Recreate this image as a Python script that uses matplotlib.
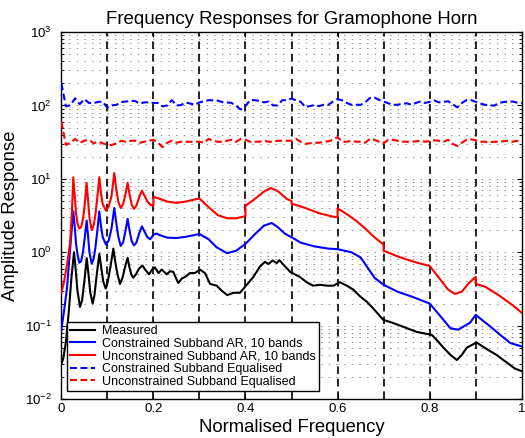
import numpy as np
import matplotlib
matplotlib.use("Agg")
import matplotlib.pyplot as plt

plt.rcParams['font.family'] = ['Liberation Sans', 'DejaVu Sans']
plt.rcParams['mathtext.fontset'] = 'custom'
plt.rcParams['mathtext.rm'] = 'Liberation Sans'
plt.rcParams['lines.scale_dashes'] = False

# band edges of the 10 subbands
band_edges = [0.1, 0.2, 0.3, 0.4, 0.5, 0.6, 0.7, 0.8, 0.9]

# measured response
meas_f = [0.000, 0.004, 0.010, 0.016, 0.022, 0.0276, 0.031, 0.035, 0.0406, 0.045,
          0.050, 0.0552, 0.059, 0.063, 0.068, 0.072, 0.077, 0.0825, 0.087, 0.091,
          0.0964, 0.101, 0.107, 0.113, 0.117, 0.122, 0.1275, 0.133, 0.139, 0.144,
          0.148, 0.152, 0.156, 0.162, 0.169, 0.176, 0.182, 0.1905, 0.197, 0.2035,
          0.211, 0.218, 0.229, 0.236, 0.243, 0.254, 0.262, 0.269, 0.2795, 0.290,
          0.301, 0.312, 0.323, 0.3375, 0.348, 0.3605, 0.3736, 0.388, 0.401, 0.417,
          0.4316, 0.4424, 0.4496, 0.459, 0.468, 0.4735, 0.486, 0.497, 0.518, 0.533,
          0.547, 0.562, 0.5765, 0.591, 0.605, 0.620, 0.634, 0.649, 0.664, 0.678,
          0.699, 0.718, 0.736, 0.755, 0.772, 0.790, 0.8045, 0.817, 0.830, 0.845,
          0.859, 0.870, 0.8805, 0.902, 0.915, 0.931, 0.945, 0.960, 0.972, 0.985, 1.000]
meas_a = [0.03, 0.035, 0.06, 0.15, 0.45, 1.0, 0.6, 0.3, 0.18, 0.22,
          0.4, 0.83, 0.5, 0.28, 0.2, 0.26, 0.5, 0.95, 0.6, 0.4,
          0.32, 0.4, 0.65, 1.12, 0.75, 0.5, 0.37, 0.45, 0.65, 0.84,
          0.62, 0.5, 0.45, 0.5, 0.6, 0.66, 0.58, 0.5, 0.58, 0.62,
          0.52, 0.58, 0.5, 0.55, 0.54, 0.38, 0.44, 0.46, 0.52, 0.52,
          0.58, 0.52, 0.37, 0.35, 0.3, 0.26, 0.28, 0.28, 0.35, 0.46,
          0.64, 0.74, 0.69, 0.77, 0.71, 0.78, 0.64, 0.54, 0.46, 0.39,
          0.35, 0.36, 0.35, 0.35, 0.39, 0.35, 0.31, 0.25, 0.21, 0.17,
          0.12, 0.11, 0.10, 0.09, 0.082, 0.078, 0.075, 0.062, 0.05, 0.04,
          0.034, 0.04, 0.05, 0.059, 0.052, 0.045, 0.04, 0.034, 0.03, 0.026, 0.024]

# constrained subband AR model
con_f = [0.000, 0.006, 0.012, 0.019, 0.023, 0.026, 0.029, 0.032, 0.035, 0.039,
         0.043, 0.047, 0.051, 0.055, 0.058, 0.061, 0.066, 0.070, 0.074, 0.078,
         0.0825, 0.086, 0.090, 0.097, 0.103, 0.109, 0.115, 0.119, 0.124, 0.129,
         0.134, 0.139, 0.144, 0.148, 0.153, 0.158, 0.163, 0.169, 0.175, 0.180,
         0.187, 0.193, 0.200, 0.206, 0.215, 0.230, 0.250, 0.270, 0.300, 0.320,
         0.337, 0.360, 0.380, 0.400, 0.420, 0.440, 0.457, 0.470, 0.485, 0.500,
         0.520, 0.550, 0.580, 0.600, 0.630, 0.650, 0.665, 0.680, 0.700, 0.730,
         0.760, 0.800, 0.830, 0.845, 0.862, 0.888, 0.900, 0.931, 0.953, 0.975, 1.000]
con_a = [0.088, 0.16, 0.31, 1.08, 2.2, 3.6, 2.3, 1.3, 0.95, 0.72,
         0.75, 1.0, 1.6, 2.7, 1.7, 1.0, 0.7, 0.8, 1.15, 1.9,
         3.6, 2.3, 1.6, 1.27, 1.45, 2.1, 4.0, 2.6, 1.6, 1.22,
         1.35, 1.9, 2.85, 2.0, 1.4, 1.24, 1.35, 1.8, 2.25, 1.95,
         1.6, 1.5, 1.72, 1.8, 1.7, 1.58, 1.56, 1.62, 1.77, 1.5,
         1.17, 0.97, 1.05, 1.3, 1.75, 2.3, 2.5, 2.2, 1.8, 1.6,
         1.35, 1.2, 1.12, 1.1, 1.0, 0.85, 0.62, 0.45, 0.36, 0.29,
         0.25, 0.2, 0.12, 0.092, 0.088, 0.11, 0.14, 0.098, 0.075, 0.058, 0.052]

# unconstrained subband AR model (jumps at band edges)
unc_f = [0.000, 0.006, 0.012, 0.019, 0.023, 0.026, 0.029, 0.032, 0.035, 0.039,
         0.043, 0.047, 0.051, 0.055, 0.058, 0.061, 0.066, 0.070, 0.074, 0.078,
         0.0825, 0.086, 0.090, 0.097, 0.103, 0.109, 0.115, 0.119, 0.124, 0.129,
         0.134, 0.139, 0.144, 0.148, 0.153, 0.158, 0.163, 0.169, 0.175, 0.180,
         0.187, 0.194, 0.200, 0.200, 0.215, 0.230, 0.250, 0.270, 0.300, 0.320,
         0.340, 0.360, 0.380, 0.400, 0.400, 0.420, 0.440, 0.455, 0.470, 0.490,
         0.500, 0.500, 0.530, 0.560, 0.590, 0.600, 0.600, 0.620, 0.640, 0.660,
         0.680, 0.700, 0.700, 0.730, 0.760, 0.780, 0.800, 0.820, 0.840, 0.855,
         0.870, 0.885, 0.900, 0.900, 0.920, 0.950, 0.980, 1.000]
unc_a = [0.28, 0.40, 0.65, 1.35, 3.5, 10.5, 6.0, 3.4, 2.5, 2.1,
         2.2, 2.8, 4.6, 8.8, 5.2, 3.0, 2.0, 2.3, 3.2, 5.5,
         10.5, 6.5, 4.5, 3.7, 4.2, 5.8, 12.0, 7.5, 4.8, 4.0,
         4.5, 6.0, 8.8, 6.2, 4.4, 3.9, 4.3, 5.6, 6.9, 6.0,
         4.9, 4.4, 4.3, 5.7, 5.3, 4.9, 4.7, 4.9, 5.4, 4.1,
         3.2, 2.9, 2.9, 3.1, 4.3, 5.3, 6.7, 7.5, 6.8, 5.3,
         5.0, 4.6, 4.0, 3.4, 3.05, 3.0, 3.96, 3.3, 2.7, 2.1,
         1.6, 1.27, 1.05, 0.88, 0.76, 0.70, 0.65, 0.45, 0.31, 0.27,
         0.29, 0.38, 0.46, 0.37, 0.34, 0.26, 0.19, 0.15]

# equalised responses, read every 0.01
eq_f = np.linspace(0, 1, 101)
con_eq = [200, 97, 101, 125, 104, 122, 108, 107, 112, 112,
          93, 100, 102, 111, 113, 115, 115, 106, 110, 110,
          108, 108, 97, 100, 118, 100, 101, 110, 106, 102,
          110, 114, 118, 117, 116, 111, 110, 108, 98, 88,
          98, 118, 118, 115, 110, 113, 100, 100, 118, 118,
          124, 117, 112, 95, 98, 101, 98, 102, 102, 113,
          122, 117, 108, 102, 102, 102, 110, 126, 128, 119,
          113, 107, 102, 102, 105, 107, 102, 108, 113, 108,
          112, 117, 110, 112, 114, 104, 94, 108, 118, 118,
          112, 106, 102, 101, 99, 108, 111, 113, 113, 109, 108]
unc_eq = [60, 29, 31, 35, 31, 33, 34, 30.5, 32, 30.5,
          29, 29, 30.5, 33, 32, 33, 33, 31, 32, 33,
          34, 31, 27, 31, 33, 31, 32, 32, 32, 32,
          32, 31, 35, 33, 32, 32, 33, 34, 32, 35,
          34, 32, 32, 32, 33, 32, 32, 33, 33, 33,
          33, 35, 32, 30, 30.5, 31, 31, 32, 32.5, 34,
          37, 32, 32, 33, 32, 32, 31, 35, 34, 32,
          30.5, 34, 34, 33, 32, 32, 32, 32.5, 33, 32,
          32.5, 33.5, 33, 32, 34, 30, 28, 31, 34, 34.5,
          33.5, 32, 32, 31.5, 32, 32, 32.5, 33, 32, 33, 32]

labels = ["Measured",
          "Constrained Subband AR, 10 bands",
          "Unconstrained Subband AR, 10 bands",
          "Constrained Subband Equalised",
          "Unconstrained Subband Equalised"]

fig = plt.figure(figsize=(5.25, 4.38), dpi=100)
ax = fig.add_axes([0.1168, 0.0890, 0.8770, 0.8379])

for e in band_edges:
    ax.axvline(e, color='k', lw=1.2, dashes=(5.5, 3.5), zorder=1)

ax.plot(meas_f, meas_a, color='k', lw=1.5, label=labels[0], zorder=3)
ax.plot(con_f, con_a, color='b', lw=1.5, label=labels[1], zorder=3)
ax.plot(unc_f, unc_a, color='r', lw=1.5, label=labels[2], zorder=3)
ax.plot(eq_f, con_eq, color='b', lw=1.5, dashes=(5, 2.5), label=labels[3], zorder=3)
ax.plot(eq_f, unc_eq, color='r', lw=1.5, dashes=(5, 2.5), label=labels[4], zorder=3)

ax.set_yscale('log')
ax.set_xlim(0, 1)
ax.set_ylim(1e-2, 1e3)
ax.set_xticks([0, 0.2, 0.4, 0.6, 0.8, 1])
ax.set_xticklabels(["0", "0.2", "0.4", "0.6", "0.8", "1"])
ax.yaxis.grid(True, which='both', color='#7a7a7a', lw=0.6, dashes=(1, 4.5))
ax.set_axisbelow(True)

ax.tick_params(which='both', direction='in', top=True, right=True, labelsize=9.5)
ax.tick_params(which='major', length=3.5, width=0.8)
ax.tick_params(which='minor', length=2, width=0.6)
ax.tick_params(axis='x', pad=3)
ax.tick_params(axis='y', pad=7)
for s in ax.spines.values():
    s.set_linewidth(1.0)

ax.set_title("Frequency Responses for Gramophone Horn", fontsize=13.4, pad=6)
ax.set_xlabel("Normalised Frequency", fontsize=13.3, labelpad=3)
ax.set_ylabel("Amplitude Response", fontsize=13.3, labelpad=4)

leg = ax.legend(loc='lower left', bbox_to_anchor=(0.0117, 0.0226), borderaxespad=0,
                fontsize=9, fancybox=False, framealpha=1, edgecolor='k',
                handlelength=2.0, handletextpad=0.55, labelspacing=0.05, borderpad=0.25)
leg.get_frame().set_linewidth(1.0)

fig.savefig("out.png", dpi=100)
